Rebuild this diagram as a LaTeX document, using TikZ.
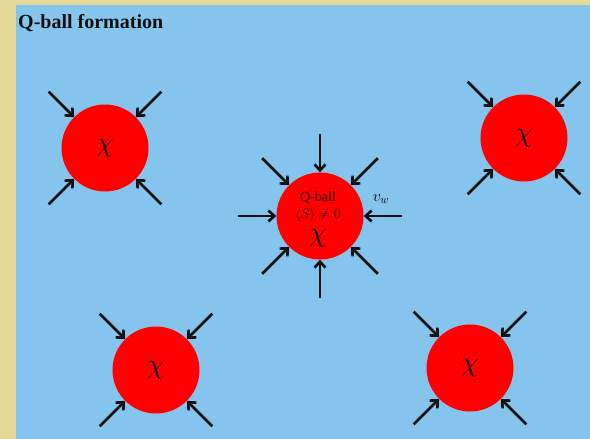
\documentclass[tikz,border=0pt]{standalone}
\usepackage{fix-cm}
\usepackage{fontspec}
\setmainfont{Liberation Serif}
\usetikzlibrary{arrows.meta}
\definecolor{bgblue}{RGB}{133,196,237}
\definecolor{beige}{RGB}{228,216,150}
\definecolor{ink}{RGB}{15,15,15}
\begin{document}
\begin{tikzpicture}[x=1pt,y=-1pt,
  ball/.style={circle,fill=red,minimum size=87pt,inner sep=0pt,font=\fontsize{28}{28}\selectfont},
  arr/.style={draw=ink,line width=2.8pt,-{Straight Barb[length=6pt,width=11pt,line width=2.6pt]}},
  lbl/.style={font=\rmfamily\fontsize{14}{14}\selectfont,inner sep=0pt,text=black!85!red}]
\fill[beige] (0,0) rectangle (590,439);
\fill[bgblue] (16,5) rectangle (590,439);
\useasboundingbox (0,0) rectangle (590,439);
\node[anchor=base west,inner sep=0pt,text=ink,font=\bfseries\fontsize{20}{24}\selectfont] (title) at (18,28) {Q-ball formation};
\foreach \n/\x/\y in {tl/105/148, tr/524/138, bl/156/370, br/470/368} {
  \node[ball] (\n) at (\x,\y) {$\chi$};
  \foreach \a in {45,135,225,315} {
    \path (\n.\a) ++(\a:36pt) coordinate (\n-t\a);
    \draw[arr] (\n-t\a) -- (\n.\a);
  }
}
\node[ball] (c) at (320,216) {};
\foreach \a in {0,45,...,315} {
  \path (c.\a) ++(\a:38pt) coordinate (c-t\a);
  \draw[arr] (c-t\a) -- (c.\a);
}
\node[lbl] (q) at (318,198) {Q-ball};
\node[lbl] (s) at (318,215) {$\langle S\rangle \neq 0$};
\node[inner sep=0pt,font=\fontsize{28}{28}\selectfont] (cchi) at (318,238) {$\chi$};
\node[inner sep=0pt,font=\fontsize{16}{16}\selectfont] (vw) at (381,199) {$v_w$};
\end{tikzpicture}
\end{document}
